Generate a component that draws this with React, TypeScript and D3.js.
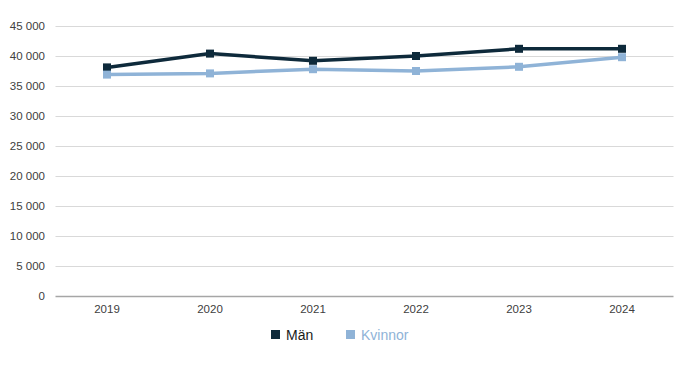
import React from "react";
import * as d3 from "d3";

const years = ["2019", "2020", "2021", "2022", "2023", "2024"];
const man = [38100, 40400, 39200, 40000, 41200, 41200];
const kvinnor = [36900, 37100, 37800, 37500, 38200, 39800];
const yTicks = [0, 5000, 10000, 15000, 20000, 25000, 30000, 35000, 40000, 45000];

const series = [
  { name: "Män", values: man, color: "#0e2a3b" },
  { name: "Kvinnor", values: kvinnor, color: "#8fb3d7" },
];

const W = 685;
const H = 365;
const left = 55.5;
const right = 673.5;
const top = 26;
const bottom = 296;

const fmt = (v: number) =>
  v === 0 ? "0" : d3.format(",")(v).replace(/,/g, " ");

export default function App() {
  const x = d3.scaleBand<string>().domain(years).range([left, right]);
  const y = d3.scaleLinear().domain([0, 45000]).range([bottom, top]);
  const cx = (yr: string) => (x(yr) ?? 0) + x.bandwidth() / 2;
  const line = d3
    .line<number>()
    .x((_, i) => cx(years[i]))
    .y((d) => y(d));
  const font = "'Liberation Sans', Arial, sans-serif";

  return (
    <svg
      width={W}
      height={H}
      style={{ position: "absolute", left: 0, top: 0, background: "#fff" }}
      fontFamily={font}
    >
      {yTicks.map((t) => (
        <g key={t}>
          <line
            x1={left}
            x2={right}
            y1={Math.round(y(t)) + 0.5}
            y2={Math.round(y(t)) + 0.5}
            stroke={t === 0 ? "#a6a6a6" : "#d9d9d9"}
            strokeWidth={t === 0 ? 1.3 : 1}
          />
          <text
            x={45}
            y={y(t)}
            dy="0.35em"
            textAnchor="end"
            fontSize={11.5}
            fill="#404040"
          >
            {fmt(t)}
          </text>
        </g>
      ))}
      {years.map((yr) => (
        <text
          key={yr}
          x={cx(yr)}
          y={309}
          dy="0.35em"
          textAnchor="middle"
          fontSize={11.5}
          fill="#404040"
        >
          {yr}
        </text>
      ))}
      {series.map((s) => (
        <g key={s.name}>
          <path
            d={line(s.values) ?? ""}
            fill="none"
            stroke={s.color}
            strokeWidth={3.5}
            strokeLinejoin="round"
          />
          {s.values.map((v, i) => (
            <rect
              key={i}
              x={cx(years[i]) - 4}
              y={y(v) - 4}
              width={8}
              height={8}
              fill={s.color}
            />
          ))}
        </g>
      ))}
      <g>
        <rect x={271} y={330} width={9} height={9} fill={series[0].color} />
        <text x={286} y={335} dy="0.35em" fontSize={14} fill="#1a1a1a">
          {series[0].name}
        </text>
        <rect x={346} y={330} width={9} height={9} fill={series[1].color} />
        <text x={361} y={335} dy="0.35em" fontSize={14} fill={series[1].color}>
          {series[1].name}
        </text>
      </g>
    </svg>
  );
}
